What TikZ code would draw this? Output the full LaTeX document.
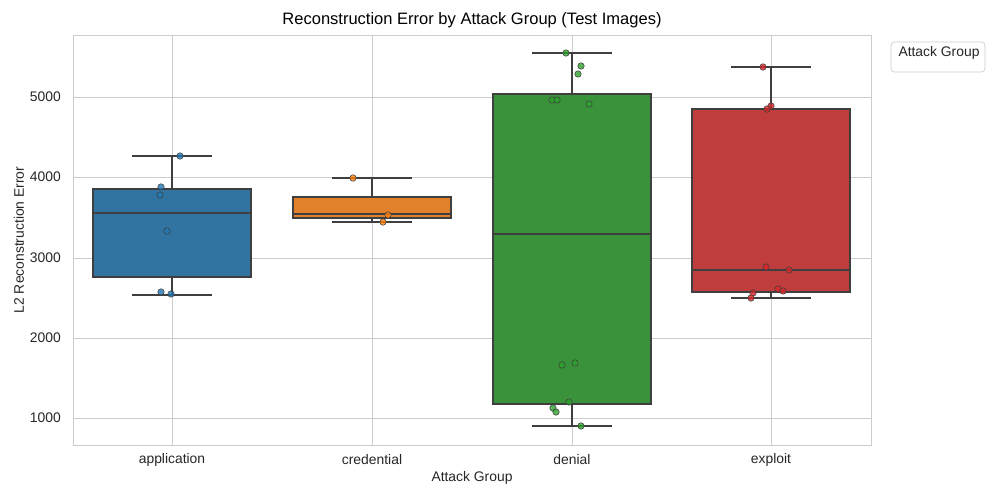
\documentclass[tikz,border=0pt]{standalone}
\usepackage{fontspec}
\setmainfont{Liberation Sans}
\usetikzlibrary{positioning}
\definecolor{gapp}{HTML}{3274A1}
\definecolor{gcred}{HTML}{E1812C}
\definecolor{gden}{HTML}{3A923A}
\definecolor{gexp}{HTML}{C03D3E}
\definecolor{papp}{HTML}{1F77B4}
\definecolor{pcred}{HTML}{FF7F0E}
\definecolor{pden}{HTML}{2CA02C}
\definecolor{pexp}{HTML}{D62728}
\definecolor{edge}{HTML}{3F3F3F}
\definecolor{grid}{HTML}{CCCCCC}
\tikzset{
         mybox/.style={draw=edge, line width=0.85pt},
         mywhisk/.style={draw=edge, line width=0.85pt},
         mygrid/.style={draw=grid, line width=0.5pt},
         mypt/.style={circle, draw=edge, line width=0.3pt, fill opacity=0.8, inner sep=0pt, minimum size=3.7pt},
         mytick/.style={font=\fontsize{7.9}{9}\selectfont, text=black!85}
      }
\begin{document}
\begin{tikzpicture}[x=0.02cm, y=-0.02cm]
  \useasboundingbox (0,0) rectangle (1000,500);
  % grid and frame
  \foreach \v/\y in {1000/418, 2000/338, 3000/258, 4000/177, 5000/97}{
    \draw[mygrid] (73,\y) -- (871,\y);
    \node[mytick, anchor=east] (t\v) at (67,\y) {\v};
  }
  \foreach \c/\n in {172/application, 372/credential, 572/denial, 771/exploit}{
    \draw[mygrid] (\c,35) -- (\c,445);
    \node[mytick] (x\n) at (\c,460) {\n};
  }
  \draw[mygrid] (73,35) rectangle (871,445);
  % boxes: center, q1, q3, median, low, high, colour
  \foreach \c/\qa/\qb/\md/\lo/\hi/\col in {172/277/189/213/295/156/gapp, 372/218/197/214/222/178/gcred,
      572/404/94/234/426/53/gden, 771/292/109/270/298/67/gexp}{
    \draw[mywhisk] (\c,\qa) -- (\c,\lo) (\c-40,\lo) -- (\c+40,\lo);
    \draw[mywhisk] (\c,\qb) -- (\c,\hi) (\c-40,\hi) -- (\c+40,\hi);
    \draw[mybox, fill=\col] (\c-79,\qa) rectangle (\c+79,\qb);
    \draw[mywhisk] (\c-79,\md) -- (\c+79,\md);
  }
  % points
  \foreach \p in {(180,156),(161,187),(160,195),(167,231),(161,292),(171,294)}
    \node[mypt, fill=papp] at \p {};
  \foreach \p in {(353,178),(388,215),(383,222)}
    \node[mypt, fill=pcred] at \p {};
  \foreach \p in {(566,53),(581,66),(578,74),(552,100),(557,100),(589,104),(562,365),(575,363),(569,402),(553,408),(556,412),(581,426)}
    \node[mypt, fill=pden] at \p {};
  \foreach \p in {(763,67),(771,106),(767,109),(766,267),(789,270),(778,289),(783,291),(753,293),(751,298)}
    \node[mypt, fill=pexp] at \p {};
  % labels
  \node[font=\fontsize{9.4}{11}\selectfont] (title) at (472,20) {Reconstruction Error by Attack Group (Test Images)};
  \node[mytick] (xlab) at (472,478) {Attack Group};
  \node[mytick, rotate=90] (ylab) at (19,240) {L2 Reconstruction Error};
  \draw[draw=grid, rounded corners=2pt] (891,42) rectangle (985,72);
  \node[mytick] (leg) at (939,53) {Attack Group};
\end{tikzpicture}
\end{document}
